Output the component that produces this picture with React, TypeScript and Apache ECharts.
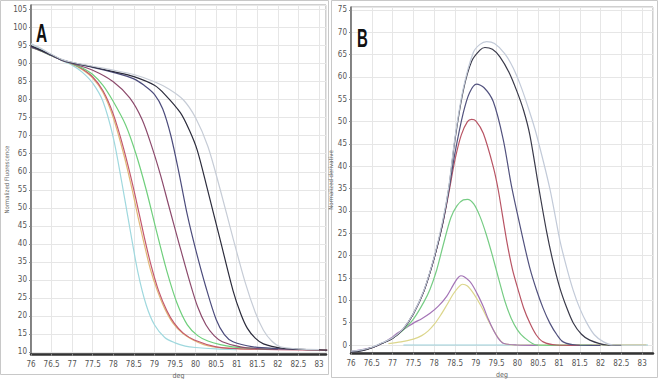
import React, { useEffect, useRef } from "react";
import * as echarts from "echarts";

const panelLetters = ["A", "B"];
const xTitle = "deg";
const yTitleA = "Normalized Fluorescence";
const yTitleB = "Normalized derivative";

// ---- Panel A: normalized melt curves [deg, fluorescence]
const meltCyan = [[76, 95.5], [76.25, 94], [76.5, 92.5], [76.75, 90.8], [77, 89.6], [77.25, 87.6], [77.5, 84.6], [77.75, 79.5], [78, 69.5], [78.2, 57.5], [78.4, 44.5], [78.6, 32], [78.8, 23], [79, 17.5], [79.25, 14], [79.5, 12.5], [79.75, 11.6], [80, 11.2], [80.5, 10.8], [81, 10.6]];
const meltOrange = [[76, 94.8], [76.25, 93.6], [76.5, 92.3], [76.75, 91], [77, 89.9], [77.25, 88.3], [77.5, 86], [77.75, 82], [78, 75], [78.25, 65], [78.46, 55], [78.6, 47.5], [78.75, 40], [78.9, 33], [79.07, 27], [79.25, 22], [79.45, 18], [79.7, 15], [79.94, 13.3], [80.2, 12], [80.43, 11.4], [81, 10.9], [81.5, 10.7]];
const meltRed = [[76, 94.6], [76.25, 93.5], [76.5, 92.2], [76.75, 91], [77, 90], [77.25, 88.5], [77.5, 86.3], [77.75, 82.5], [78, 76], [78.25, 66.5], [78.5, 55], [78.77, 41], [78.93, 33.5], [79.1, 27], [79.3, 21.5], [79.48, 18], [79.7, 15.2], [79.97, 13.3], [80.5, 11.4], [81, 10.9], [82, 10.6], [83.2, 10.5]];
const meltGreen = [[76, 94.5], [76.25, 93.5], [76.5, 92.2], [76.75, 91], [77, 90], [77.25, 88.8], [77.5, 87], [77.75, 84], [78, 79.5], [78.3, 73], [78.55, 65], [78.8, 55], [79.05, 43.5], [79.3, 32.5], [79.55, 23.5], [79.8, 17.5], [80.05, 14.5], [80.3, 13], [80.6, 12], [80.9, 11.4], [81.5, 10.9], [82, 10.7]];
const meltPlum = [[76, 94.6], [76.25, 93.6], [76.5, 92.3], [76.75, 91], [77, 90.1], [77.5, 88.2], [78, 85], [78.4, 80.5], [78.7, 74.5], [78.95, 66.5], [79.15, 59], [79.35, 50.5], [79.6, 40], [79.87, 29], [80.05, 22.5], [80.25, 17.5], [80.45, 14.5], [80.65, 12.8], [81.09, 11.4], [81.5, 10.9], [82, 10.7]];
const meltNavy = [[76, 94.8], [76.25, 93.6], [76.5, 92.3], [76.75, 91], [77, 90.2], [77.5, 89], [78, 87.6], [78.5, 85.8], [78.75, 84], [79, 81.5], [79.2, 77.5], [79.4, 70], [79.6, 59.5], [79.8, 48], [80, 38.5], [80.25, 28], [80.5, 19], [80.7, 14.8], [80.91, 12.8], [81.4, 11.4], [82, 10.9], [82.5, 10.7]];
const meltBlack = [[76, 95], [76.25, 93.7], [76.5, 92.4], [76.75, 91.1], [77, 90.3], [77.5, 89.1], [78, 87.8], [78.5, 86.4], [79, 84], [79.25, 81.5], [79.63, 76.4], [79.85, 71.5], [80.04, 66], [80.28, 55.5], [80.6, 41], [80.91, 27], [81.1, 20.5], [81.26, 16.5], [81.45, 13.8], [81.65, 12.2], [82.1, 11], [82.6, 10.7], [83.2, 10.5]];
const meltGray = [[76, 95.5], [76.25, 94.2], [76.5, 92.6], [76.75, 91.2], [77, 90.4], [77.5, 89.3], [78, 88.2], [78.5, 87], [79, 85], [79.35, 83], [79.7, 80], [80, 75], [80.3, 67], [80.6, 55], [80.9, 42], [81.2, 29.5], [81.45, 21], [81.65, 16], [81.85, 13], [82.06, 11.4], [82.5, 10.8], [83, 10.6]];

// ---- Panel B: normalized derivative curves [deg, value]
const derivYellow = [[76.9, 0.3], [77.2, 0.7], [77.5, 1.3], [77.7, 2.1], [77.85, 3.1], [78, 4.6], [78.15, 6.6], [78.3, 8.9], [78.45, 11.3], [78.57, 12.8], [78.68, 13.6], [78.8, 13.2], [78.94, 11.6], [79.06, 9.8], [79.18, 7.8], [79.3, 5.5], [79.42, 3.4], [79.54, 1.6], [79.66, 0.4], [80, 0], [81, 0], [83.1, 0.1]];
const derivPurple = [[76, -1.5], [76.5, -0.6], [76.75, 0.4], [77, 1.8], [77.1, 2.6], [77.3, 3.7], [77.5, 4.9], [77.7, 5.9], [77.9, 7.1], [78.1, 8.7], [78.3, 10.9], [78.45, 13.3], [78.55, 14.8], [78.64, 15.5], [78.72, 15.3], [78.85, 14.3], [78.94, 13.1], [79.06, 11], [79.18, 8.6], [79.3, 5.8], [79.42, 3.4], [79.54, 1.5], [79.66, 0.4], [79.98, 0], [80.5, -0.1]];
const derivGreen = [[76, -1.5], [76.25, -1.2], [76.5, -0.6], [76.75, 0.4], [77, 1.5], [77.25, 3.3], [77.5, 5.8], [77.75, 9.6], [77.9, 12.5], [78.06, 16.8], [78.22, 22.5], [78.4, 28.5], [78.55, 31.2], [78.7, 32.5], [78.8, 32.6], [78.95, 31.6], [79.1, 28.8], [79.25, 24.8], [79.4, 20], [79.55, 14.8], [79.7, 9.8], [79.85, 6], [80, 3.4], [80.15, 1.8], [80.46, 0], [81, -0.1], [81.8, -0.1]];
const derivRed = [[76, -1.5], [76.25, -1.2], [76.5, -0.6], [76.75, 0.4], [77, 1.5], [77.25, 3.5], [77.5, 7], [77.75, 12], [78, 19.5], [78.2, 27], [78.35, 34], [78.5, 41.5], [78.65, 47], [78.8, 50], [78.9, 50.5], [79, 50.2], [79.18, 47.4], [79.42, 39.9], [79.54, 34.7], [79.74, 23.5], [79.88, 17], [80.02, 12.3], [80.15, 8.3], [80.3, 4.9], [80.45, 2.3], [80.62, 0.7], [80.94, 0], [81.5, -0.1]];
const derivNavy = [[76, -1.5], [76.25, -1.2], [76.5, -0.6], [76.75, 0.4], [77, 1.5], [77.25, 3.5], [77.5, 7], [77.75, 12], [78, 19.5], [78.2, 27], [78.35, 34.5], [78.5, 43], [78.7, 52], [78.85, 56.5], [79.02, 58.4], [79.2, 57.6], [79.42, 54.5], [79.66, 46], [79.86, 35.5], [80.14, 23.5], [80.3, 17.2], [80.46, 12.3], [80.62, 8.2], [80.78, 4.9], [80.95, 2.3], [81.1, 0.7], [81.42, 0], [82, -0.1]];
const derivBlack = [[76, -1.6], [76.25, -1.3], [76.5, -0.6], [76.75, 0.4], [77, 1.5], [77.25, 3.5], [77.5, 7], [77.75, 12], [78, 19.5], [78.2, 27.2], [78.35, 35], [78.5, 46], [78.7, 57], [78.9, 63.5], [79.1, 66], [79.22, 66.6], [79.4, 66.2], [79.58, 64.5], [79.8, 61], [79.98, 57], [80.15, 52.5], [80.3, 47], [80.5, 36], [80.7, 25.5], [80.86, 18.5], [81.02, 12.8], [81.18, 8.5], [81.34, 5], [81.54, 2.4], [81.74, 1.1], [82.14, 0], [82.5, -0.1]];
const derivGray = [[76, -1.4], [76.25, -1.1], [76.5, -0.5], [76.75, 0.5], [77, 1.6], [77.25, 3.6], [77.5, 7.1], [77.75, 12.2], [78, 19.8], [78.2, 27.6], [78.35, 35.4], [78.5, 46.5], [78.7, 57.5], [78.94, 65.5], [79.1, 67.3], [79.26, 67.9], [79.45, 67.5], [79.7, 65.2], [79.9, 62], [80.1, 57.5], [80.3, 52], [80.45, 47.4], [80.78, 35], [81.02, 23.5], [81.18, 17.5], [81.34, 12.3], [81.5, 8.2], [81.67, 4.9], [81.85, 2.3], [82.07, 0.7], [82.3, 0], [83.1, 0]];
const derivCyan = [[77.26, 0], [83.14, 0]];

const meltSeries = [meltCyan, meltOrange, meltRed, meltGreen, meltPlum, meltNavy, meltBlack, meltGray];
const meltColors = ["#9fd8de", "#e2b878", "#c2576e", "#6fcf7c", "#8c4a6c", "#4c4c7c", "#2c2c3c", "#c6ccd6"];
const derivSeries = [derivCyan, derivYellow, derivPurple, derivGreen, derivRed, derivNavy, derivBlack, derivGray];
const derivColors = ["#9cd0da", "#dcd68c", "#a474b6", "#76cc84", "#b85464", "#52527e", "#3a3a4a", "#c2cad8"];

const labelFont = "'Liberation Sans Narrow', 'DejaVu Sans Condensed', 'Liberation Sans', sans-serif";

function axisCommon() {
  return {
    axisLabel: { fontSize: 8, color: "#555", fontFamily: labelFont, margin: 4, showMinLabel: false, showMaxLabel: false },
    axisTick: { show: true, length: 2, lineStyle: { color: "#888" } },
    splitLine: { show: true, lineStyle: { color: "#e6e6e6", width: 1 } },
    nameTextStyle: { fontSize: 6, color: "#666", fontFamily: labelFont },
  };
}

export default function App() {
  const ref = useRef<HTMLDivElement>(null);
  useEffect(() => {
    if (!ref.current) return;
    const chart = echarts.init(ref.current, undefined, { renderer: "svg" });
    const series: any[] = [];
    meltSeries.forEach((d, i) =>
      series.push({
        type: "line", xAxisIndex: 0, yAxisIndex: 0, data: d, showSymbol: false,
        smooth: 0.3,
        lineStyle: { color: meltColors[i], width: 1.2 }, silent: true,
      })
    );
    derivSeries.forEach((d, i) =>
      series.push({
        type: "line", xAxisIndex: 1, yAxisIndex: 1, data: d, showSymbol: false,
        smooth: 0.3,
        lineStyle: { color: derivColors[i], width: 1.2 }, silent: true,
      })
    );
    const c = axisCommon();
    chart.setOption({
      animation: false,
      backgroundColor: "#ffffff",
      grid: [
        { left: 31, top: 5, width: 295, height: 349, show: true, borderColor: "#a0a0a0", borderWidth: 1, outerBoundsMode: "none", containLabel: false },
        { left: 351, top: 7, width: 302, height: 346, show: true, borderColor: "#a0a0a0", borderWidth: 1, outerBoundsMode: "none", containLabel: false },
      ],
      xAxis: [0, 1].map((g) => ({
        type: "value", gridIndex: g, min: 76, max: g === 0 ? 83.17 : 83.26, interval: 0.5,
        name: xTitle, nameLocation: "middle", nameGap: 15,
        axisLine: { show: true, onZero: false, lineStyle: { color: "#333", width: 2.5 } },
        ...c,
        axisLabel: { ...c.axisLabel, margin: 6, showMinLabel: true },
        nameTextStyle: { fontSize: 7, color: "#666", fontFamily: labelFont },
      })),
      yAxis: [
        {
          type: "value", gridIndex: 0, min: 9.4, max: 106.3, splitNumber: 19,
          name: yTitleA, nameLocation: "middle", nameGap: 12,
          axisLine: { show: true, onZero: false, lineStyle: { color: "#666", width: 1.5 } },
          ...c,
        },
        {
          type: "value", gridIndex: 1, min: -1.79, max: 75.67, splitNumber: 16,
          name: yTitleB, nameLocation: "middle", nameGap: 10,
          axisLine: { show: true, onZero: false, lineStyle: { color: "#666", width: 1.5 } },
          ...c,
        },
      ],
      graphic: [
        { type: "rect", shape: { x: 0.5, y: 0.5, width: 328, height: 374 }, style: { fill: "none", stroke: "#c8c8c8", lineWidth: 1 }, silent: true },
        { type: "rect", shape: { x: 331.5, y: 0.5, width: 326, height: 377 }, style: { fill: "none", stroke: "#c8c8c8", lineWidth: 1 }, silent: true },
        { type: "text", x: 36, y: 20, scaleX: 0.62, style: { text: panelLetters[0], font: "bold 25px 'Liberation Sans', sans-serif", fill: "#111" }, z: 10 },
        { type: "text", x: 357, y: 25, scaleX: 0.6, style: { text: panelLetters[1], font: "bold 25px 'Liberation Sans', sans-serif", fill: "#111" }, z: 10 },
      ],
      series,
    });
    return () => chart.dispose();
  }, []);
  return <div ref={ref} style={{ position: "fixed", left: 0, top: 0, width: 659, height: 379 }} />;
}
